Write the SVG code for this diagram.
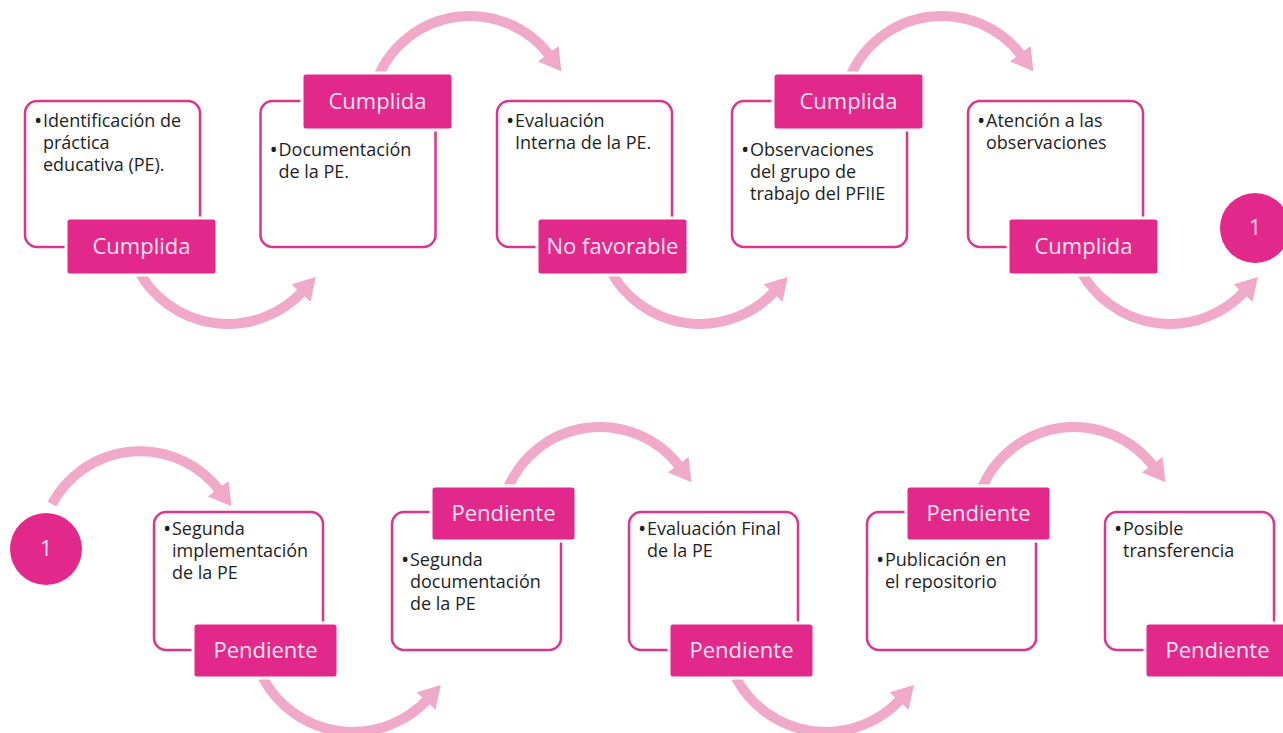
<svg xmlns="http://www.w3.org/2000/svg" width="1283" height="733" viewBox="0 0 1283 733">
<style>
.box{fill:#fff;stroke:#d9368f;stroke-width:2.5}
.lab{fill:#e2288b;stroke:#fff;stroke-width:3}
.lt{font-family:"Open Sans","Liberation Sans",sans-serif;font-size:22px;fill:#fde3f0;text-anchor:middle}
.bt{font-family:"Open Sans","Liberation Sans",sans-serif;font-size:18px;fill:#1e1e1e}
.bu{font-size:22px}
.arc{fill:none;stroke:#f0a9c9;stroke-width:10;marker-end:url(#ah)}
.cir{fill:#e2288b}
</style>
<defs>
<marker id="ah" markerUnits="userSpaceOnUse" markerWidth="24" markerHeight="26" viewBox="0 0 24 26" refX="3" refY="13" orient="auto"><path d="M0,0 L22,13 L0,26 z" fill="#f0a9c9"/></marker>
</defs>
<rect width="1283" height="733" fill="#fff"/>
<g id="connectors">
<path class="arc" d="M138,270 A102,102 0 0 0 303,291"/>
<path class="arc" d="M138,270 A102,102 0 0 0 303,291" transform="translate(472,0)"/>
<path class="arc" d="M138,270 A102,102 0 0 0 303,291" transform="translate(942,0)"/>
<path class="arc" d="M377.5,78 A100,100 0 0 1 550,56"/>
<path class="arc" d="M377.5,78 A100,100 0 0 1 550,56" transform="translate(472,0)"/>
<path class="arc" d="M52,504 A100,100 0 0 1 220,491"/>
<path class="arc" d="M377.5,78 A100,100 0 0 1 550,56" transform="translate(130,411)"/>
<path class="arc" d="M377.5,78 A100,100 0 0 1 550,56" transform="translate(604,411)"/>
<path class="arc" d="M138,270 A102,102 0 0 0 303,291" transform="translate(125,408)"/>
<path class="arc" d="M138,270 A102,102 0 0 0 303,291" transform="translate(598,408)"/>
</g>
<g id="n1">
<rect class="box" x="25" y="101" width="175" height="146" rx="12"/>
<text class="bt"><tspan class="bu" x="34" y="128">•</tspan><tspan x="43" y="127">Identificación de</tspan><tspan x="43" y="149">práctica</tspan><tspan x="43" y="171">educativa (PE).</tspan></text>
<rect class="lab" x="66" y="218" width="151" height="57" rx="4"/>
<text class="lt" x="141.5" y="254">Cumplida</text>
</g>
<g id="n2">
<rect class="box" x="260.5" y="101" width="175" height="146" rx="12"/>
<text class="bt"><tspan class="bu" x="269.5" y="157">•</tspan><tspan x="278.5" y="156">Documentación</tspan><tspan x="278.5" y="178">de la PE.</tspan></text>
<rect class="lab" x="302" y="73" width="151" height="57" rx="4"/>
<text class="lt" x="377.5" y="109">Cumplida</text>
</g>
<g id="n3">
<rect class="box" x="497" y="101" width="175" height="146" rx="12"/>
<text class="bt"><tspan class="bu" x="506" y="128">•</tspan><tspan x="515" y="127">Evaluación</tspan><tspan x="515" y="149">Interna de la PE.</tspan></text>
<rect class="lab" x="537" y="218" width="151" height="57" rx="4"/>
<text class="lt" x="612.5" y="254">No favorable</text>
</g>
<g id="n4">
<rect class="box" x="732" y="101" width="175" height="146" rx="12"/>
<text class="bt"><tspan class="bu" x="741" y="157">•</tspan><tspan x="750" y="156">Observaciones</tspan><tspan x="750" y="178">del grupo de</tspan><tspan x="750" y="200">trabajo del PFIIE</tspan></text>
<rect class="lab" x="773" y="73" width="151" height="57" rx="4"/>
<text class="lt" x="848.5" y="109">Cumplida</text>
</g>
<g id="n5">
<rect class="box" x="968" y="101" width="175" height="146" rx="12"/>
<text class="bt"><tspan class="bu" x="977" y="128">•</tspan><tspan x="986" y="127">Atención a las</tspan><tspan x="986" y="149">observaciones</tspan></text>
<rect class="lab" x="1008" y="218" width="151" height="57" rx="4"/>
<text class="lt" x="1083.5" y="254">Cumplida</text>
</g>
<g id="c1top">
<circle class="cir" cx="1255" cy="228" r="35"/>
<text class="lt" x="1255" y="235" style="font-size:21px">1</text>
</g>
<g id="c1bottom">
<circle class="cir" cx="46" cy="549" r="36"/>
<text class="lt" x="46" y="556" style="font-size:21px">1</text>
</g>
<g id="n6">
<rect class="box" x="154" y="512" width="169" height="138" rx="12"/>
<text class="bt"><tspan class="bu" x="163" y="536">•</tspan><tspan x="172" y="535">Segunda</tspan><tspan x="172" y="557">implementación</tspan><tspan x="172" y="579">de la PE</tspan></text>
<rect class="lab" x="193" y="623" width="145" height="55" rx="4"/>
<text class="lt" x="265.5" y="658">Pendiente</text>
</g>
<g id="n7">
<rect class="box" x="392" y="512" width="169" height="138" rx="12"/>
<text class="bt"><tspan class="bu" x="401" y="567">•</tspan><tspan x="410" y="566">Segunda</tspan><tspan x="410" y="588">documentación</tspan><tspan x="410" y="610">de la PE</tspan></text>
<rect class="lab" x="431" y="486" width="145" height="55" rx="4"/>
<text class="lt" x="503.5" y="521">Pendiente</text>
</g>
<g id="n8">
<rect class="box" x="629" y="512" width="169" height="138" rx="12"/>
<text class="bt"><tspan class="bu" x="638" y="536">•</tspan><tspan x="647" y="535">Evaluación Final</tspan><tspan x="647" y="557">de la PE</tspan></text>
<rect class="lab" x="669" y="623" width="145" height="55" rx="4"/>
<text class="lt" x="741.5" y="658">Pendiente</text>
</g>
<g id="n9">
<rect class="box" x="867" y="512" width="169" height="138" rx="12"/>
<text class="bt"><tspan class="bu" x="876" y="567">•</tspan><tspan x="885" y="566">Publicación en</tspan><tspan x="885" y="588">el repositorio</tspan></text>
<rect class="lab" x="906" y="486" width="145" height="55" rx="4"/>
<text class="lt" x="978.5" y="521">Pendiente</text>
</g>
<g id="n10">
<rect class="box" x="1105" y="512" width="169" height="138" rx="12"/>
<text class="bt"><tspan class="bu" x="1114" y="536">•</tspan><tspan x="1123" y="535">Posible</tspan><tspan x="1123" y="557">transferencia</tspan></text>
<rect class="lab" x="1145" y="623" width="145" height="55" rx="4"/>
<text class="lt" x="1217.5" y="658">Pendiente</text>
</g>
</svg>
